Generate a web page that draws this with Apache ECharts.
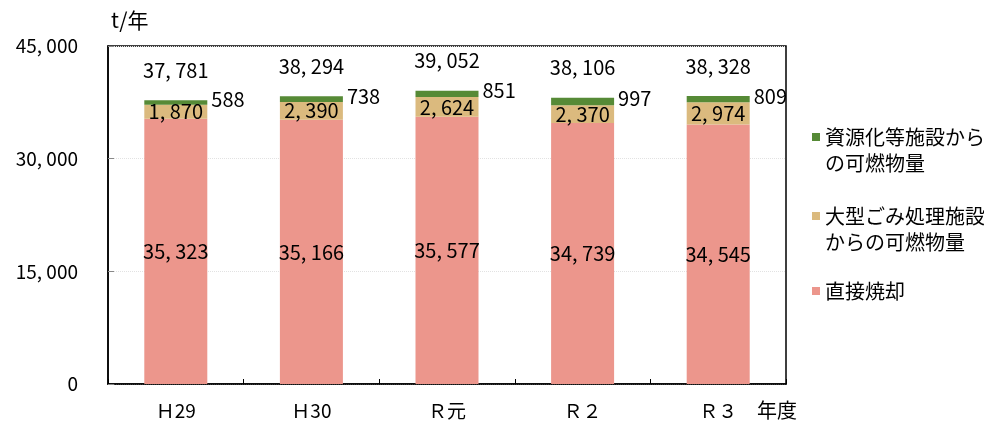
<!DOCTYPE html>
<html>
<head>
<meta charset="utf-8">
<script src="https://cdn.jsdelivr.net/npm/echarts@6/dist/echarts.min.js"></script>
<style>
html,body{margin:0;padding:0;background:#fff;}
#chart{width:984px;height:421px;}
</style>
</head>
<body>
<div id="chart"></div>
<script>
const categories = ['Ｈ29', 'Ｈ30', 'Ｒ元', 'Ｒ２', 'Ｒ３'];
const directIncineration = [35323, 35166, 35577, 34739, 34545];
const largeWaste = [1870, 2390, 2624, 2370, 2974];
const resourceFacility = [588, 738, 851, 997, 809];
const totals = [37781, 38294, 39052, 38106, 38328];
const yTicks = [0, 15000, 30000, 45000];

const nameResource = '資源化等施設からの可燃物量';
const nameLarge = '大型ごみ処理施設からの可燃物量';
const nameDirect = '直接焼却';

const FONT = '"Noto Sans CJK JP", sans-serif';
const fmt = v => String(v).replace(/\B(?=(\d{3})+(?!\d))/g, ', ');

const C_GREEN = '#568a36';
const C_TAN = '#dbba7e';
const C_PINK = '#ec968c';

const chart = echarts.init(document.getElementById('chart'));

function legendFor(name, top, lines) {
  return {
    show: true,
    orient: 'vertical',
    left: 812,
    top: top,
    padding: 0,
    itemWidth: 8,
    itemHeight: 8,
    icon: 'rect',
    selectedMode: false,
    data: [name],
    formatter: () => lines,
    textStyle: {
      fontFamily: FONT,
      fontSize: 20,
      color: '#000',
      lineHeight: 26
    }
  };
}

chart.setOption({
  animation: false,
  backgroundColor: '#fff',
  grid: {
    left: 108, right: 198, top: 46, bottom: 37,
    show: true, borderColor: '#000', borderWidth: 1.5,
    containLabel: false
  },
  legend: [
    legendFor(nameResource, 98, '\n資源化等施設から\nの可燃物量'),
    legendFor(nameLarge, 177, '\n大型ごみ処理施設\nからの可燃物量'),
    legendFor(nameDirect, 278, '直接焼却')
  ],
  xAxis: {
    type: 'category',
    data: categories,
    axisLine: { lineStyle: { color: '#000', width: 1.5 } },
    axisTick: { show: true, inside: true, length: 5, lineStyle: { color: '#000' } },
    axisLabel: { fontFamily: FONT, fontSize: 19, color: '#000', margin: 17 },
    name: '年度',
    nameLocation: 'end',
    nameGap: -29,
    nameTextStyle: { fontFamily: FONT, fontSize: 20, color: '#000', align: 'left', verticalAlign: 'top', padding: [16, 0, 0, 0] }
  },
  yAxis: {
    type: 'value',
    min: 0, max: 45000, interval: 15000,
    name: 't/年',
    nameLocation: 'end',
    nameGap: 15,
    nameTextStyle: { fontFamily: FONT, fontSize: 21, color: '#000', align: 'left', padding: [0, 0, 0, 3] },
    axisLine: { show: true, lineStyle: { color: '#000', width: 1.5 } },
    axisTick: { show: true, inside: true, length: 6, lineStyle: { color: '#888' } },
    splitLine: { show: true, lineStyle: { color: '#e2e2e2', type: 'dotted' } },
    axisLabel: {
      fontFamily: FONT, fontSize: 19, color: '#000', margin: 30,
      formatter: v => yTicks.includes(v) ? fmt(v) : ''
    }
  },
  series: [
    {
      name: nameDirect, type: 'bar', stack: 'total', barWidth: 63,
      data: directIncineration,
      itemStyle: { color: C_PINK },
      label: { show: true, position: 'inside', fontFamily: FONT, fontSize: 20, color: '#000', formatter: p => fmt(p.value) }
    },
    {
      name: nameLarge, type: 'bar', stack: 'total', barWidth: 63,
      data: largeWaste,
      itemStyle: { color: C_TAN },
      label: { show: true, position: 'inside', fontFamily: FONT, fontSize: 20, color: '#000', formatter: p => fmt(p.value) }
    },
    {
      name: nameResource, type: 'bar', stack: 'total', barWidth: 63,
      data: resourceFacility,
      itemStyle: { color: C_GREEN },
      label: { show: true, position: 'right', distance: 4, offset: [0, -3], fontFamily: FONT, fontSize: 20, color: '#000', formatter: p => fmt(p.value) }
    },
    {
      name: 'total', type: 'scatter', symbolSize: 0, silent: true,
      data: totals,
      itemStyle: { opacity: 1 },
      label: { show: true, position: 'top', distance: 20, fontFamily: FONT, fontSize: 20, color: '#000', opacity: 1, formatter: p => fmt(p.value) }
    }
  ]
});
</script>
</body>
</html>
